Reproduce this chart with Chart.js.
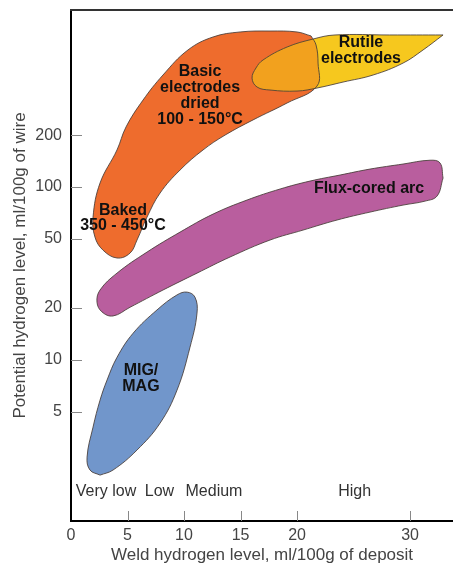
<!DOCTYPE html>
<html>
<head>
<meta charset="utf-8">
<script src="https://cdn.jsdelivr.net/npm/chart.js@4.4.1/dist/chart.umd.min.js"></script>
<style>
  html, body { margin: 0; padding: 0; background: #fff; }
  canvas { display: block; }
</style>
</head>
<body>
<canvas id="chart" width="453" height="564"></canvas>
<script>
// axis ticks
const xTicks = [0, 5, 10, 15, 20, 30];
const yTicks = [5, 10, 20, 50, 100, 200];

// region outlines (x = weld hydrogen, y = potential hydrogen)
const rutileX = [32.92, 31.15, 29.38, 26.73, 24.07, 21.77, 20.0, 17.61, 16.46, 16.02, 16.37, 16.99, 19.12, 21.42, 23.36, 28.2, 32.92];
const rutileY = [761, 623, 523, 446, 406, 375, 360, 365, 380, 428, 490, 545, 648, 721, 761, 761, 761];

const basicX = [21.24, 21.68, 21.86, 21.77, 19.12, 16.11, 13.63, 11.68, 9.65, 7.88, 6.73, 5.84, 5.22, 4.07, 2.83, 2.12, 1.95, 2.57, 4.07, 4.87, 6.37, 8.14, 10.35, 12.57, 14.96, 17.61, 20.0, 21.24];
const basicY = [751, 666, 523, 385, 307, 245, 200, 164, 125.5, 92.3, 67.0, 49.3, 41.4, 38.8, 43.1, 51.3, 67.0, 105.5, 164, 223, 319, 446, 623, 741, 792, 802, 792, 751];

const fluxX = [32.92, 32.39, 31.33, 29.38, 26.46, 23.54, 20.53, 17.61, 14.07, 11.15, 8.14, 5.22, 3.72, 2.74, 2.30, 2.57, 4.07, 6.73, 9.65, 12.57, 15.58, 18.50, 21.15, 23.81, 26.46, 29.38, 31.77, 32.65, 32.92];
const fluxY = [112.8, 88.7, 82.9, 78.6, 71.6, 64.4, 56.3, 49.3, 39.3, 31.7, 25.3, 20.1, 17.9, 18.9, 21.5, 25.3, 31.7, 42.0, 54.8, 69.7, 84.1, 97.4, 108.3, 117.4, 127.1, 135.9, 143, 138, 112.8];

const migX = [2.57, 1.68, 1.42, 1.95, 2.57, 3.19, 4.07, 5.49, 7.61, 9.38, 10.27, 10.97, 11.15, 10.53, 9.38, 7.88, 5.84, 3.72, 2.57];
const migY = [2.14, 2.29, 2.72, 4.06, 5.82, 7.61, 10.3, 14.2, 19.4, 23.7, 24.6, 23.0, 18.6, 11.8, 6.65, 4.28, 2.99, 2.29, 2.14];

// text inside the regions
const labelLines = [['Basic', 'electrodes', 'dried', '100 - 150°C'], ['Baked', '350 - 450°C'], ['Rutile', 'electrodes'], ['Flux-cored arc'], ['MIG/', 'MAG']];
const labelX = [11.42, 4.60, 25.66, 26.37, 6.19];
const labelY = [339, 66.1, 618, 97.4, 7.76];

// weld hydrogen bands along the bottom
const bandNames = ['Very low', 'Low', 'Medium', 'High'];
const bandX = [3.1, 7.83, 12.65, 25.1];
const bandY = 1.71;

const overlapColor = '#F2A11E';
const FONT = '"Liberation Sans", Arial, sans-serif';

function toPoints(xs, ys) {
  return xs.map((x, i) => ({ x: x, y: ys[i] }));
}

function region(xs, ys, color) {
  return {
    data: toPoints(xs, ys),
    showLine: true,
    fill: 'shape',
    backgroundColor: color,
    borderColor: 'rgba(70,60,55,0.85)',
    borderWidth: 1,
    tension: 0.4,
    pointRadius: 0
  };
}

const decor = {
  id: 'decor',
  beforeDatasetsDraw(chart) {
    // darker patch where rutile covers basic electrodes
    const ctx = chart.ctx;
    const a = chart.chartArea;
    const rutile = chart.getDatasetMeta(0).dataset;
    const basic = chart.getDatasetMeta(1).dataset;
    ctx.save();
    ctx.beginPath();
    ctx.rect(a.left, a.top, a.right - a.left, a.bottom - a.top);
    ctx.clip();
    ctx.beginPath();
    basic.path(ctx);
    ctx.closePath();
    ctx.clip();
    ctx.beginPath();
    rutile.path(ctx);
    ctx.closePath();
    ctx.fillStyle = overlapColor;
    ctx.fill();
    ctx.restore();
  },
  afterDatasetsDraw(chart) {
    const ctx = chart.ctx;
    const xs = chart.scales.x;
    const ys = chart.scales.y;
    ctx.save();
    ctx.textAlign = 'center';
    ctx.textBaseline = 'middle';
    ctx.fillStyle = '#111';
    ctx.font = 'bold 16px ' + FONT;
    labelLines.forEach((lines, i) => {
      const cx = xs.getPixelForValue(labelX[i]);
      const cy = ys.getPixelForValue(labelY[i]);
      lines.forEach((t, j) => {
        ctx.fillText(t, cx, cy + (j - (lines.length - 1) / 2) * 15.7);
      });
    });
    ctx.fillStyle = '#333';
    ctx.font = '16px ' + FONT;
    bandNames.forEach((t, i) => {
      ctx.fillText(t, xs.getPixelForValue(bandX[i]), ys.getPixelForValue(bandY));
    });
    ctx.restore();
  },
  afterDraw(chart) {
    const ctx = chart.ctx;
    const a = chart.chartArea;
    const xs = chart.scales.x;
    const ys = chart.scales.y;
    ctx.save();
    // ticks pointing into the plot
    ctx.strokeStyle = '#888';
    ctx.lineWidth = 1;
    ctx.beginPath();
    xTicks.forEach(v => {
      if (v === 0) return;
      const px = Math.round(xs.getPixelForValue(v)) + 0.5;
      ctx.moveTo(px, a.bottom);
      ctx.lineTo(px, a.bottom - 10);
    });
    yTicks.forEach(v => {
      const py = Math.round(ys.getPixelForValue(v)) + 0.5;
      ctx.moveTo(a.left, py);
      ctx.lineTo(a.left + 11, py);
    });
    ctx.stroke();
    // top frame line
    ctx.strokeStyle = '#333';
    ctx.lineWidth = 2;
    ctx.beginPath();
    ctx.moveTo(a.left - 1, a.top);
    ctx.lineTo(a.right, a.top);
    ctx.stroke();
    ctx.restore();
  }
};

new Chart(document.getElementById('chart'), {
  type: 'scatter',
  data: {
    datasets: [
      region(rutileX, rutileY, '#F6C81E'),
      region(basicX, basicY, '#EE6C2D'),
      region(fluxX, fluxY, '#B95E9E'),
      region(migX, migY, '#7196CB')
    ]
  },
  options: {
    responsive: false,
    animation: false,
    events: [],
    layout: { padding: { top: 10, left: 0, right: 0, bottom: 0 } },
    plugins: {
      legend: { display: false },
      tooltip: { enabled: false },
      filler: { drawTime: 'beforeDatasetsDraw', propagate: false }
    },
    scales: {
      x: {
        type: 'linear',
        min: 0,
        max: 33.8,
        bounds: 'data',
        afterBuildTicks: s => { s.ticks = xTicks.map(v => ({ value: v })); },
        afterFit: s => { s.height = 43; s.paddingLeft = 0; s.paddingRight = 0; },
        grid: { drawOnChartArea: false, drawTicks: false },
        border: { display: true, color: '#000', width: 2 },
        ticks: {
          autoSkip: false,
          maxRotation: 0,
          padding: 5,
          color: '#444',
          font: { family: FONT, size: 16 },
          callback: v => String(v)
        },
        title: {
          display: true,
          text: 'Weld hydrogen level, ml/100g of deposit',
          color: '#444',
          font: { family: FONT, size: 17, lineHeight: 1 },
          padding: { top: 0, bottom: 0 }
        }
      },
      y: {
        type: 'logarithmic',
        min: 1.16,
        max: 1062,
        bounds: 'data',
        afterBuildTicks: s => { s.ticks = yTicks.map(v => ({ value: v })); },
        afterFit: s => { s.width = 71; s.paddingTop = 0; s.paddingBottom = 0; },
        grid: { drawOnChartArea: false, drawTicks: false },
        border: { display: true, color: '#000', width: 2 },
        ticks: {
          autoSkip: false,
          padding: 9,
          color: '#444',
          font: { family: FONT, size: 16 },
          callback: v => String(v)
        },
        title: {
          display: true,
          text: 'Potential hydrogen level, ml/100g of wire',
          color: '#444',
          font: { family: FONT, size: 17, lineHeight: 1.2 },
          padding: { top: 10, bottom: 0 }
        }
      }
    }
  },
  plugins: [decor]
});
</script>
</body>
</html>
